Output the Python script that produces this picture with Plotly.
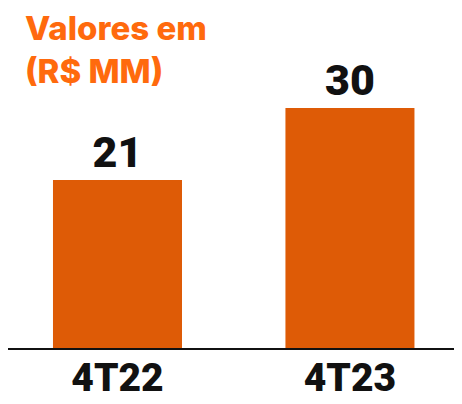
import plotly.graph_objects as go

quarters = ["4T22", "4T23"]
values = [21, 30]
value_labels = ["21", "30"]

bar_color = "#DE5B06"
title_color = "#FF6A0D"

fig = go.Figure()
fig.add_trace(
    go.Bar(
        x=quarters,
        y=values,
        text=value_labels,
        textposition="outside",
        textfont={"family": "Roboto", "size": 43, "color": "#111111", "weight": 900},
        marker={"color": bar_color, "line": {"width": 0}},
        width=0.555,
        cliponaxis=False,
    )
)

fig.add_annotation(
    text="Valores em<br>(R$ MM)",
    xref="paper",
    yref="paper",
    x=0.035,
    y=1.004,
    xanchor="left",
    yanchor="top",
    align="left",
    showarrow=False,
    borderpad=0,
    font={"family": "Inter", "size": 33, "color": title_color, "weight": 800},
)

# the page body adds an 8px margin, so the figure is a bit smaller than the window
fig.update_layout(
    width=454,
    height=396,
    margin={"l": 0, "r": 0, "t": 0, "b": 56},
    plot_bgcolor="white",
    paper_bgcolor="white",
    showlegend=False,
)
fig.update_xaxes(
    range=[-0.471, 1.482],
    automargin=False,
    showline=True,
    linecolor="#111111",
    linewidth=1.5,
    showgrid=False,
    ticks="",
    ticklabelstandoff=-6,
    tickfont={"family": "Roboto", "size": 39, "color": "#111111", "weight": 900},
)
fig.update_yaxes(range=[0, 42.5], visible=False, showgrid=False, automargin=False)

fig.write_html("out.html")
